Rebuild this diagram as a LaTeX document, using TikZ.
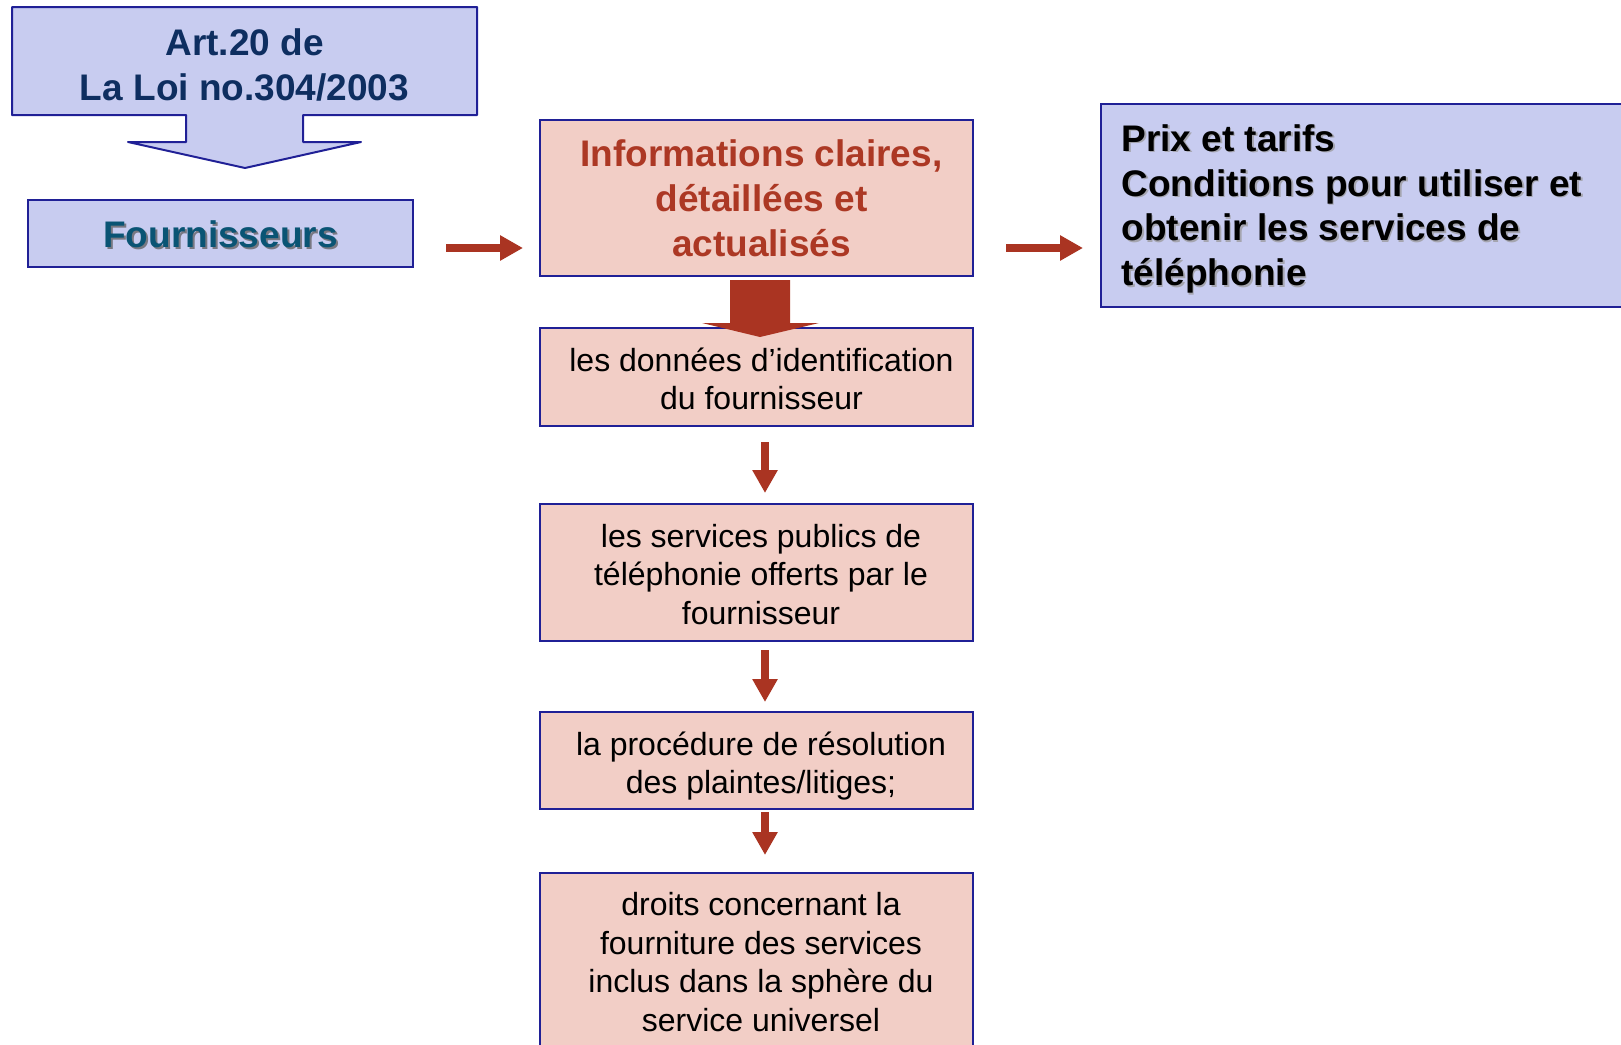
\documentclass[tikz,border=0pt]{standalone}
\usepackage{fontspec}
\setmainfont{Liberation Sans}
\usetikzlibrary{arrows.meta}
\definecolor{bfill}{RGB}{200,204,240}
\definecolor{bline}{RGB}{32,32,150}
\definecolor{rfill}{RGB}{242,206,198}
\definecolor{rarrow}{RGB}{170,52,34}
\definecolor{rtext}{RGB}{172,56,36}
\definecolor{ntext}{RGB}{14,46,96}
\definecolor{ttext}{RGB}{10,84,116}
\definecolor{shadowc}{RGB}{120,120,130}
\definecolor{shadowl}{RGB}{165,165,175}
\begin{document}
\begin{tikzpicture}[x=1pt,y=-1pt,
  bluebox/.style={draw=bline, line width=2pt, fill=bfill, inner sep=0pt},
  redbox/.style={draw=bline, line width=2pt, fill=rfill, inner sep=0pt, minimum width=433pt},
  bigtxt/.style={font=\fontsize{37}{45}\selectfont\bfseries, align=center},
  smalltxt/.style={font=\fontsize{32}{38.5}\selectfont, align=center, text=black},
  flow/.style={draw=rarrow, line width=8pt, -{Triangle[length=23pt,width=24pt]}}]
\useasboundingbox (0,0) rectangle (1621,1044);
\clip (0,0) rectangle (1621,1044);
% callout box with arrow
\path[draw=bline, line width=2pt, fill=bfill, line join=round]
  (12,7) -- (477,7) -- (477,115) -- (303,115) -- (303,142) -- (361,142)
  -- (245,168) -- (128,142) -- (186,142) -- (186,115) -- (12,115) -- cycle;
\node[bigtxt, text=ntext] (art) at (244.5,65) {Art.20 de\\La Loi no.304/2003};
% Fournisseurs
\node[bluebox, minimum width=385pt, minimum height=67pt] (fourn) at (220.5,233.5) {};
\node[bigtxt, text=shadowc] at (222.5,236.5) {Fournisseurs};
\node[bigtxt, text=ttext] (fourntxt) at (220.5,234.5) {Fournisseurs};
% Info box
\node[redbox, minimum height=156pt] (info) at (756.5,198) {};
\node[bigtxt, text=rtext] (infotxt) at (761.5,198)
  {Informations claires,\\détaillées et\\actualisés};
% right box
\node[bluebox, minimum width=540pt, minimum height=203pt, anchor=north west] (prix) at (1100,103) {};
\node[font=\fontsize{37}{44.8}\selectfont\bfseries, align=left, anchor=west, text=shadowl] at (1119.5,210.5)
  {Prix et tarifs\\Conditions pour utiliser et\\obtenir les services de\\téléphonie};
\node[font=\fontsize{37}{44.8}\selectfont\bfseries, align=left, anchor=west, text=black] (prixtxt) at (1118,209)
  {Prix et tarifs\\Conditions pour utiliser et\\obtenir les services de\\téléphonie};
% lower boxes
\node[redbox, minimum height=98pt] (donnees) at (756.5,377) {};
\node[smalltxt] (donneestxt) at (761.5,379)
  {les données d’identification\\du fournisseur};
\node[redbox, minimum height=137pt] (services) at (756.5,572.5) {};
\node[smalltxt] (servicestxt) at (761,574.5)
  {les services publics de\\téléphonie offerts par le\\fournisseur};
\node[redbox, minimum height=97pt] (proc) at (756.5,760.5) {};
\node[smalltxt] (proctxt) at (761,766)
  {la procédure de résolution\\des plaintes/litiges;};
\node[redbox, minimum height=190pt, anchor=north] (droits) at (756.5,872) {};
\node[smalltxt] (droitstxt) at (761,962)
  {droits concernant la\\fourniture des services\\inclus dans la sphère du\\service universel};
% big red arrow
\fill[rarrow] (730,280) -- (790,280) -- (790,323) -- (819,323) -- (760,337)
  -- (702,323) -- (730,323) -- cycle;
% connectors
\draw[flow, shorten <=32pt, shorten >=16pt] (fourn.east |- 0,248) -- (info.west |- 0,248);
\draw[flow, shorten <=32pt, shorten >=17pt] (info.east |- 0,248) -- (prix.west |- 0,248);
\draw[flow, shorten <=15pt, shorten >=10pt] ([xshift=8.5pt]donnees.south) -- ([xshift=8.5pt]services.north);
\draw[flow, shorten <=8pt, shorten >=9pt] ([xshift=8.5pt]services.south) -- ([xshift=8.5pt]proc.north);
\draw[flow, shorten <=2pt, shorten >=17pt] ([xshift=8.5pt]proc.south) -- ([xshift=8.5pt]droits.north);
\end{tikzpicture}
\end{document}
